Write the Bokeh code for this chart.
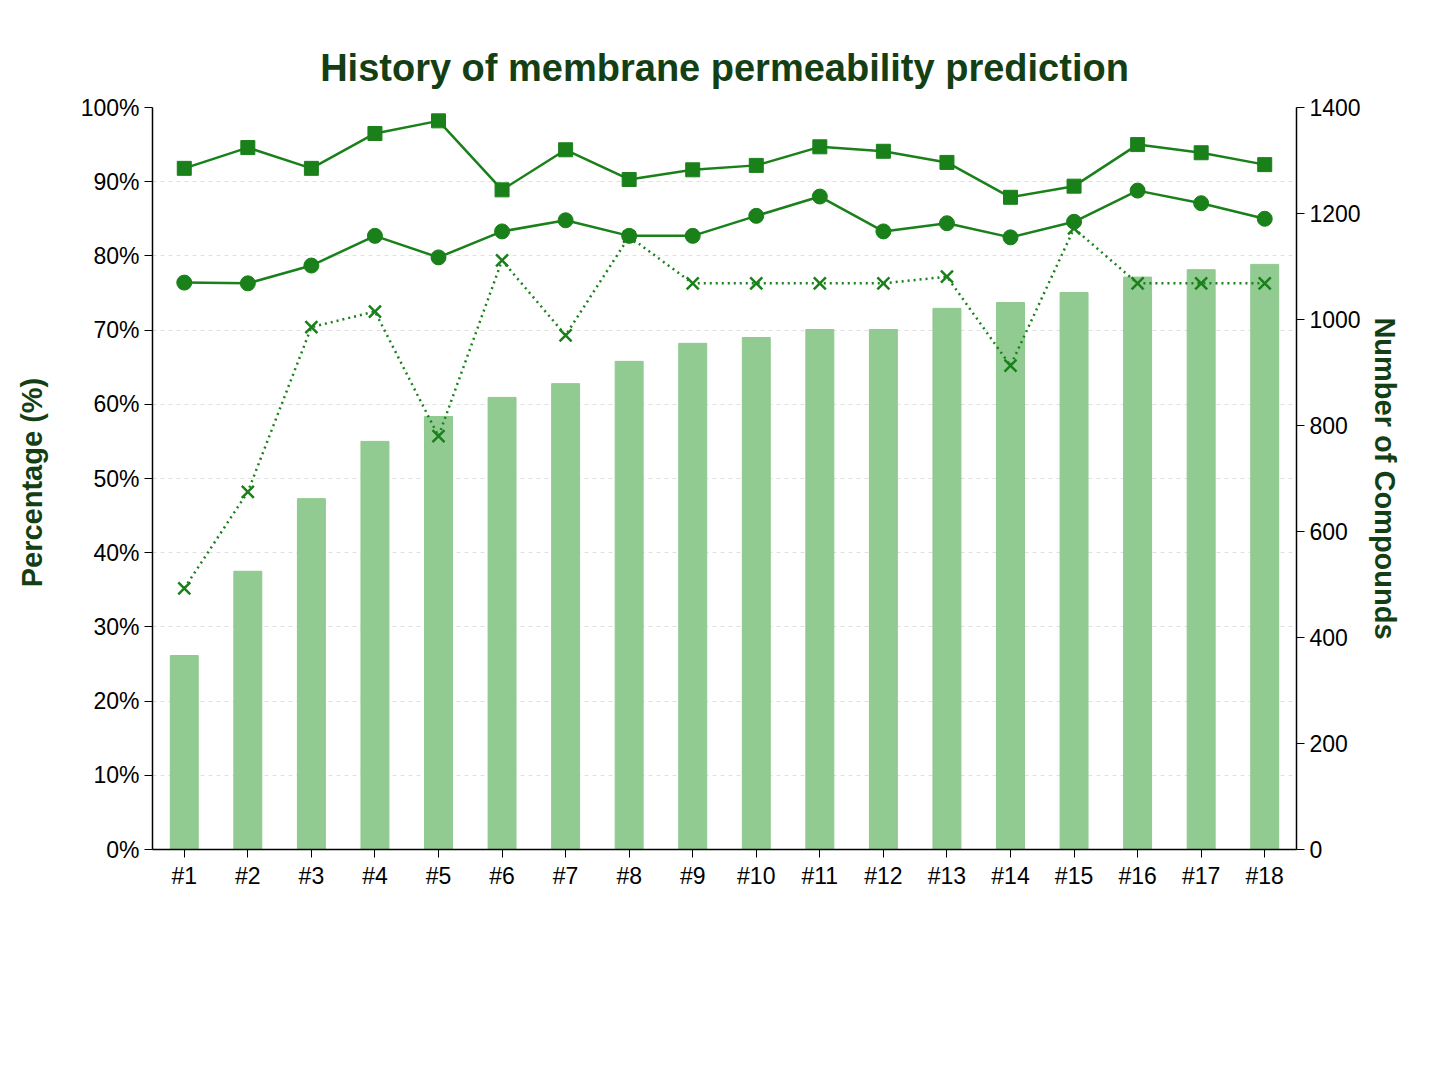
from bokeh.plotting import figure
from bokeh.models import Range1d, LinearAxis, Legend, LegendItem, PrintfTickFormatter, FixedTicker
from bokeh.embed import file_html
from bokeh.resources import INLINE

cats = ["#%d" % i for i in range(1, 19)]
n_train = [366, 525, 662, 770, 817, 853, 879, 921, 955, 966, 981, 981, 1021, 1032, 1051, 1080, 1094, 1104]
acc = [76.4, 76.3, 78.7, 82.7, 79.8, 83.3, 84.8, 82.7, 82.7, 85.4, 88.0, 83.3, 84.4, 82.5, 84.6, 88.8, 87.1, 85.0]
acc_high = [91.8, 94.6, 91.8, 96.5, 98.2, 88.9, 94.3, 90.3, 91.6, 92.2, 94.7, 94.1, 92.6, 87.9, 89.4, 95.0, 93.9, 92.3]
lib_high = [35.2, 48.2, 70.4, 72.5, 55.7, 79.4, 69.3, 82.6, 76.3, 76.3, 76.3, 76.3, 77.2, 65.2, 83.7, 76.3, 76.3, 76.3]

GREEN = "#1a801a"
DARK = "#143f14"
FONT = "Liberation Sans"

p = figure(x_range=cats, y_range=Range1d(0, 100), frame_width=1144, frame_height=742,
           min_border_left=152, min_border_right=135, min_border_top=107, min_border_bottom=225,
           output_backend="svg", toolbar_location=None,
           title="History of membrane permeability prediction")
p.title.text_font = FONT
p.title.text_font_size = "38px"
p.title.text_font_style = "bold"
p.title.text_color = DARK
p.title.align = "center"
p.title.offset = 0
p.title.standoff = 38
p.extra_y_ranges = {"n": Range1d(0, 1400)}

bars = p.vbar(x=cats, top=n_train, width=0.44, y_range_name="n", color="#8cc88c", alpha=0.95)
l1 = p.line(cats, acc, color=GREEN, line_width=2.5)
c1 = p.scatter(cats, acc, color=GREEN, size=15, marker="circle")
l2 = p.line(cats, acc_high, color=GREEN, line_width=2.5)
c2 = p.scatter(cats, acc_high, color=GREEN, size=14, marker="square")
l3 = p.line(cats, lib_high, color=GREEN, line_width=2.5, line_dash="2 4")
c3 = p.scatter(cats, lib_high, color=GREEN, size=17, marker="x", line_width=2.5)

p.yaxis.ticker = FixedTicker(ticks=list(range(0, 101, 10)))
p.yaxis.formatter = PrintfTickFormatter(format="%d%%")
p.yaxis.axis_label = "Percentage  (%)"

ax2 = LinearAxis(y_range_name="n", axis_label="Number of Compounds",
                 ticker=FixedTicker(ticks=list(range(0, 1401, 200))))
p.add_layout(ax2, "right")

for ax in [p.yaxis[0], ax2, p.xaxis[0]]:
    ax.major_label_text_font = FONT
    ax.major_label_text_font_size = "23px"
    ax.major_label_text_color = "black"
    ax.axis_label_text_font = FONT
    ax.axis_label_text_font_size = "29px"
    ax.axis_label_text_font_style = "bold"
    ax.axis_label_text_color = DARK
    ax.minor_tick_line_color = None
    ax.axis_line_color = "black"
    ax.axis_line_width = 1.5
    ax.major_tick_line_color = "black"
    ax.major_tick_out = 8
    ax.major_tick_in = 0
p.yaxis[0].axis_label_standoff = 30

p.xgrid.grid_line_color = None
p.ygrid.grid_line_color = "#e0e0e0"
p.ygrid.grid_line_dash = "4 4"
p.outline_line_color = None

legend = Legend(items=[
    LegendItem(label="Number of Training Compounds", renderers=[bars]),
    LegendItem(label="Accuracy (%)", renderers=[l1, c1]),
    LegendItem(label="Accuracy for Prediction Confidence = High (%)", renderers=[l2, c2]),
    LegendItem(label='Percentage of Library Compounds with "Prediction Confidence = High" (%)', renderers=[l3, c3]),
], location=(145, -210), border_line_color=None, background_fill_alpha=0, label_text_font=FONT,
   label_text_font_size="23px", glyph_width=64, glyph_height=24, spacing=16,
   label_standoff=26, padding=10, margin=0)
p.add_layout(legend, "center")

open("out.html", "w").write(file_html(p, INLINE))
